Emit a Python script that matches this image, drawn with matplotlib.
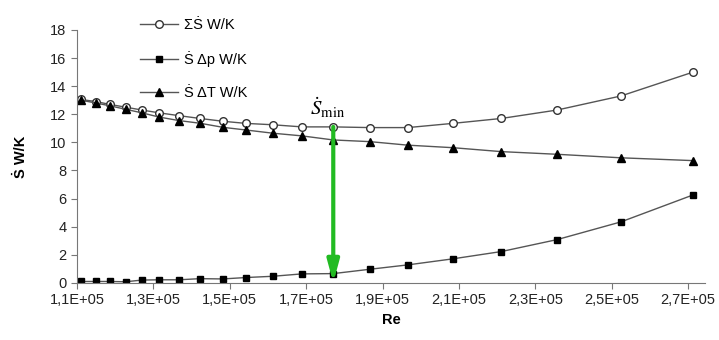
import matplotlib
matplotlib.use('Agg')
from matplotlib import pyplot as plt
from matplotlib.ticker import FuncFormatter, MultipleLocator

plt.rcParams['font.family'] = ['Liberation Sans', 'DejaVu Sans']
plt.rcParams['mathtext.fontset'] = 'stix'

# data
re = [111000, 115000, 118600, 122800, 127000, 131500, 136700, 142200, 148200,
      154200, 161300, 168900, 177100, 186700, 196600, 208400, 221100, 235700,
      252400, 271300]
s_sum = [13.05, 12.9, 12.7, 12.5, 12.3, 12.1, 11.9, 11.7, 11.5, 11.35, 11.25,
         11.1, 11.1, 11.05, 11.05, 11.35, 11.7, 12.3, 13.3, 15.0]
s_dp = [0.1, 0.1, 0.1, 0.08, 0.2, 0.22, 0.22, 0.3, 0.28, 0.38, 0.47, 0.64,
        0.66, 0.97, 1.28, 1.71, 2.23, 3.08, 4.34, 6.26]
s_dt = [13.0, 12.8, 12.6, 12.35, 12.1, 11.8, 11.55, 11.36, 11.07, 10.88, 10.65,
        10.46, 10.17, 10.05, 9.8, 9.62, 9.34, 9.15, 8.9, 8.7]
x_ticks = [110000, 130000, 150000, 170000, 190000, 210000, 230000, 250000, 270000]
labels = ['\u03a3\u1e60 W/K', '\u1e60 \u0394p W/K', '\u1e60 \u0394T W/K']
i_min = 12

fig = plt.figure(figsize=(7.19, 3.40), dpi=100)
ax = fig.add_axes([0.107, 0.168, 0.8735, 0.744])

lc = '#555555'
ax.plot(re, s_sum, color=lc, lw=1, marker='o', ms=5.5, mfc='white', mec='#333333',
        mew=1, label=labels[0])
ax.plot(re, s_dp, color=lc, lw=1, marker='s', ms=5, mfc='black', mec='black',
        label=labels[1])
ax.plot(re, s_dt, color=lc, lw=1, marker='^', ms=5.5, mfc='black', mec='black',
        label=labels[2])

# green arrow at the minimum
ax.annotate('', xy=(re[i_min], 0), xytext=(re[i_min], s_sum[i_min]),
            arrowprops=dict(arrowstyle='-|>,head_width=0.35,head_length=1.3',
                            color='#22bb22', lw=3, shrinkA=0, shrinkB=0))
ax.text(171000, 11.9, r'$\dot{S}_{\rm min}$', fontsize=15, va='baseline')

ax.set_xlim(110000, 274400)
ax.set_ylim(0, 18)
ax.set_xticks(x_ticks)
ax.yaxis.set_major_locator(MultipleLocator(2))
ax.xaxis.set_major_formatter(FuncFormatter(
    lambda v, p: ('%.1fE+05' % (v / 1e5)).replace('.', ',')))

for s in ['top', 'right']:
    ax.spines[s].set_visible(False)
for s in ['left', 'bottom']:
    ax.spines[s].set_color('#777777')
ax.tick_params(colors='#777777', labelcolor='#222222', labelsize=10.5, length=4)

ax.set_xlabel('Re', fontsize=10.5, fontweight='bold')
ax.set_ylabel('\u1e60 W/K', fontsize=10.5, fontweight='bold', labelpad=16)

ax.legend(loc='upper left', bbox_to_anchor=(0.08, 1.1), frameon=False,
          fontsize=10.5, handlelength=2.6, labelspacing=1.3, handletextpad=0.4)

fig.savefig('out.png', dpi=100)
